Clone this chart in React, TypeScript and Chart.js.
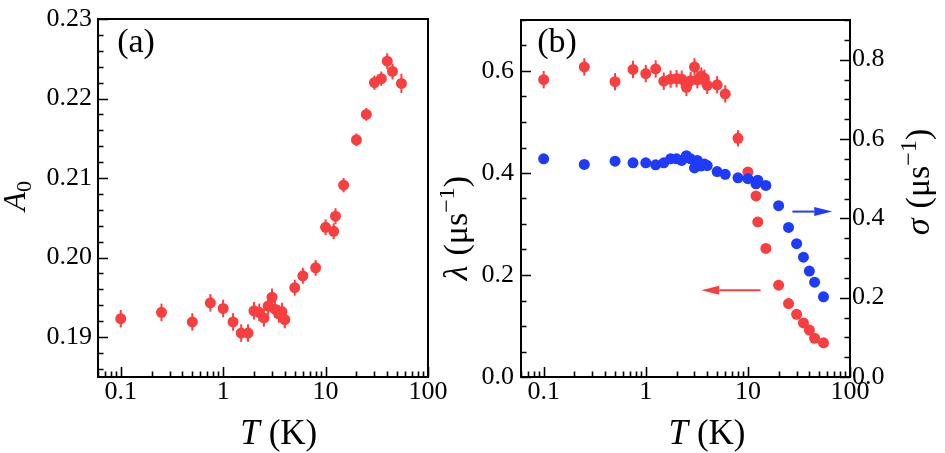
import React, { useEffect, useRef } from "react";
import { Chart, registerables } from "chart.js";

Chart.register(...registerables);

// ---------------- data ----------------
const temperatures = [0.1, 0.25, 0.5, 0.75, 1, 1.25, 1.5, 1.75, 2, 2.25, 2.5, 2.75, 3, 3.2, 3.5, 3.75, 4, 5, 6, 8, 10, 12, 12.5, 15, 20, 25, 30, 35, 40, 45, 55];
const a0Values = [0.1923, 0.1931, 0.1919, 0.1943, 0.1936, 0.1919, 0.1905, 0.1905, 0.1933, 0.1931, 0.1924, 0.1939, 0.195, 0.1935, 0.1929, 0.1932, 0.1922, 0.1962, 0.1977, 0.1987, 0.2038, 0.2033, 0.2052, 0.2091, 0.2148, 0.218, 0.222, 0.2225, 0.2247, 0.2234, 0.2219];
const a0Errors = [0.0011, 0.0011, 0.0011, 0.0011, 0.0011, 0.0011, 0.0011, 0.0011, 0.0011, 0.0011, 0.0011, 0.0011, 0.0011, 0.0011, 0.0011, 0.0011, 0.0011, 0.001, 0.001, 0.001, 0.001, 0.001, 0.001, 0.0009, 0.0008, 0.0008, 0.0009, 0.0009, 0.001, 0.001, 0.0012];
const lambdaValues = [0.583, 0.608, 0.579, 0.603, 0.595, 0.604, 0.58, 0.584, 0.585, 0.584, 0.568, 0.581, 0.608, 0.583, 0.59, 0.586, 0.572, 0.573, 0.555, 0.468, 0.402, 0.355, 0.304, 0.252, 0.18, 0.144, 0.123, 0.106, 0.092, 0.076, 0.067];
const lambdaErrors = [0.017, 0.017, 0.017, 0.017, 0.017, 0.017, 0.017, 0.017, 0.017, 0.017, 0.017, 0.017, 0.017, 0.017, 0.017, 0.017, 0.017, 0.017, 0.017, 0.016, 0.006, 0.005, 0.005, 0.005, 0.004, 0.004, 0.004, 0.004, 0.004, 0.004, 0.004];
const sigmaValues = [0.55, 0.536, 0.544, 0.54, 0.54, 0.535, 0.54, 0.55, 0.55, 0.546, 0.558, 0.55, 0.527, 0.546, 0.532, 0.537, 0.533, 0.518, 0.511, 0.502, 0.5, 0.487, 0.496, 0.483, 0.432, 0.377, 0.336, 0.302, 0.267, 0.239, 0.202];

const xTickValues = [0.1, 1, 10, 100];
const xTickLabels = ["0.1", "1", "10", "100"];
const a0TickValues = [0.19, 0.2, 0.21, 0.22, 0.23];
const a0TickLabels = ["0.19", "0.20", "0.21", "0.22", "0.23"];
const lambdaTickValues = [0, 0.2, 0.4, 0.6];
const lambdaTickLabels = ["0.0", "0.2", "0.4", "0.6"];
const sigmaTickValues = [0, 0.2, 0.4, 0.6, 0.8];
const sigmaTickLabels = ["0.0", "0.2", "0.4", "0.6", "0.8"];

// arrow annotations (data coordinates: T, value)
const sigmaArrowT = [27.3, 67];
const sigmaArrowV = [0.417, 0.417];
const lambdaArrowT = [13.3, 3.5];
const lambdaArrowV = [0.17, 0.17];

// ---------------- styles ----------------
const RED = "rgb(248,62,62)";
const BLUE = "rgb(30,58,250)";
const SERIF = "'Liberation Serif'";
const TICK_SIZE = 26;
const OXB = 440;

type TickMark = { v: number; major: boolean };
function linearTicks(min: number, max: number, step: number, major: number): TickMark[] {
  const out: TickMark[] = [];
  const i0 = Math.ceil(min / step - 1e-6);
  const i1 = Math.floor(max / step + 1e-6);
  for (let i = i0; i <= i1; i++) {
    const v = i * step;
    const r = v / major;
    out.push({ v, major: Math.abs(r - Math.round(r)) < 1e-6 });
  }
  return out;
}
function logTicks(min: number, max: number): TickMark[] {
  const out: TickMark[] = [];
  for (let e = -3; e <= 3; e++) {
    for (let k = 1; k <= 9; k++) {
      const v = k * Math.pow(10, e);
      if (v >= min * 0.9999 && v <= max * 1.0001) out.push({ v, major: k === 1 });
    }
  }
  return out;
}

type Piece = { t?: string; size?: number; italic?: boolean; dy?: number; gap?: number };
function pieceFont(p: Piece) {
  return `${p.italic ? "italic " : ""}${p.size || 35}px ${SERIF}`;
}
function drawRich(ctx: CanvasRenderingContext2D, pieces: Piece[], cx: number, cy: number, rot: number) {
  ctx.save();
  ctx.translate(cx, cy);
  ctx.rotate(rot);
  ctx.textBaseline = "alphabetic";
  ctx.textAlign = "left";
  ctx.fillStyle = "#000";
  const widths = pieces.map((p) => {
    if (p.gap !== undefined) return p.gap;
    ctx.font = pieceFont(p);
    return ctx.measureText(p.t || "").width;
  });
  const total = widths.reduce((a, b) => a + b, 0);
  let x = -total / 2;
  pieces.forEach((p, i) => {
    if (p.t) {
      ctx.font = pieceFont(p);
      ctx.fillText(p.t, x, p.dy || 0);
    }
    x += widths[i];
  });
  ctx.restore();
}

type TextSpec = { pieces: Piece[]; x: number; y: number; rot: number };
type ArrowSpec = { t: number[]; v: number[]; scale: string; color: string };
type Decor = {
  ox: number;
  xTicks: TickMark[];
  left: { id: string; ticks: TickMark[] };
  right?: { id: string; ticks: TickMark[] };
  texts: TextSpec[];
  arrows: ArrowSpec[];
};

function makeDecorPlugin(d: Decor) {
  return {
    id: "decor",
    beforeDatasetsDraw(chart: any) {
      const ctx: CanvasRenderingContext2D = chart.ctx;
      const xs = chart.scales.x;
      chart.data.datasets.forEach((ds: any) => {
        if (!ds.errors) return;
        const ys = chart.scales[ds.yAxisID || "y"];
        ctx.save();
        ctx.strokeStyle = ds.backgroundColor;
        ctx.lineWidth = 2;
        ds.data.forEach((pt: any, i: number) => {
          const e = ds.errors[i];
          const px = xs.getPixelForValue(pt.x);
          ctx.beginPath();
          ctx.moveTo(px, ys.getPixelForValue(pt.y - e));
          ctx.lineTo(px, ys.getPixelForValue(pt.y + e));
          ctx.stroke();
        });
        ctx.restore();
      });
    },
    afterDraw(chart: any) {
      const ctx: CanvasRenderingContext2D = chart.ctx;
      const { left, right, top, bottom } = chart.chartArea;
      const xs = chart.scales.x;
      ctx.save();
      ctx.strokeStyle = "#000";
      ctx.lineWidth = 1.6;
      const MAJ = 10, MIN = 5.5;
      ctx.beginPath();
      d.xTicks.forEach((t) => {
        const px = Math.round(xs.getPixelForValue(t.v)) + 0.5;
        ctx.moveTo(px, bottom);
        ctx.lineTo(px, bottom - (t.major ? MAJ : MIN));
      });
      const ly = chart.scales[d.left.id];
      d.left.ticks.forEach((t) => {
        const py = Math.round(ly.getPixelForValue(t.v)) + 0.5;
        ctx.moveTo(left, py);
        ctx.lineTo(left + (t.major ? MAJ : MIN), py);
      });
      if (d.right) {
        const ry = chart.scales[d.right.id];
        d.right.ticks.forEach((t) => {
          const py = Math.round(ry.getPixelForValue(t.v)) + 0.5;
          ctx.moveTo(right, py);
          ctx.lineTo(right - (t.major ? MAJ : MIN), py);
        });
      }
      ctx.stroke();
      ctx.lineWidth = 2;
      ctx.strokeRect(left, top, right - left, bottom - top);
      d.arrows.forEach((a) => {
        const ys = chart.scales[a.scale];
        const x1 = xs.getPixelForValue(a.t[0]);
        const x2 = xs.getPixelForValue(a.t[1]);
        const y1 = ys.getPixelForValue(a.v[0]);
        const y2 = ys.getPixelForValue(a.v[1]);
        const ang = Math.atan2(y2 - y1, x2 - x1);
        const hl = 18, hw = 4.5;
        const bx = x2 - hl * Math.cos(ang);
        const by = y2 - hl * Math.sin(ang);
        ctx.strokeStyle = a.color;
        ctx.fillStyle = a.color;
        ctx.lineWidth = 2;
        ctx.beginPath();
        ctx.moveTo(x1, y1);
        ctx.lineTo(bx, by);
        ctx.stroke();
        ctx.beginPath();
        ctx.moveTo(x2, y2);
        ctx.lineTo(bx - hw * Math.sin(ang), by + hw * Math.cos(ang));
        ctx.lineTo(bx + hw * Math.sin(ang), by - hw * Math.cos(ang));
        ctx.closePath();
        ctx.fill();
      });
      ctx.restore();
      d.texts.forEach((t) => drawRich(ctx, t.pieces, t.x - d.ox, t.y, t.rot));
    },
  };
}

function fixedTicks(values: number[], labels: string[], padding: number) {
  return {
    afterBuildTicks: (s: any) => {
      s.ticks = values.map((v) => ({ value: v }));
    },
    ticks: {
      autoSkip: false,
      maxRotation: 0,
      minRotation: 0,
      padding,
      color: "#000",
      font: { family: SERIF, size: TICK_SIZE, lineHeight: 1 },
      callback: (_v: any, i: number) => labels[i],
    },
    grid: { display: false, drawTicks: false },
    border: { display: false },
  };
}

const ROT = -Math.PI / 2;

export default function App() {
  const refA = useRef<HTMLCanvasElement>(null);
  const refB = useRef<HTMLCanvasElement>(null);

  useEffect(() => {
    const xMin = 0.06;
    const xMax = 100;
    const common = {
      responsive: false,
      animation: false as const,
      devicePixelRatio: 1,
      events: [] as any[],
      font: { family: SERIF },
      plugins: { legend: { display: false }, tooltip: { enabled: false } },
    };

    const decorA: Decor = {
      ox: 0,
      xTicks: logTicks(xMin, xMax),
      left: { id: "y", ticks: linearTicks(0.18497, 0.23, 0.002, 0.01) },
      texts: [
        { pieces: [{ t: "T", italic: true }, { gap: 9 }, { t: "(K)" }], x: 278.7, y: 444, rot: 0 },
        { pieces: [{ t: "A", italic: true, size: 31 }, { t: "0", size: 22, dy: 6 }], x: 25, y: 196, rot: ROT },
        { pieces: [{ t: "(a)", size: 34 }], x: 136, y: 52, rot: 0 },
      ],
      arrows: [],
    };

    const chartA = new Chart(refA.current as HTMLCanvasElement, {
      type: "scatter",
      data: {
        datasets: [
          {
            data: temperatures.map((t, i) => ({ x: t, y: a0Values[i] })),
            backgroundColor: RED,
            borderWidth: 0,
            pointRadius: 5.5,
            errors: a0Errors,
          } as any,
        ],
      },
      options: {
        ...common,
        layout: { padding: { top: 16, right: 32, left: 0, bottom: 0 } },
        scales: {
          x: {
            type: "logarithmic",
            position: "bottom",
            min: xMin,
            max: xMax,
            afterFit: (s: any) => {
              s.height = 76;
            },
            ...fixedTicks(xTickValues, xTickLabels, 2),
          },
          y: {
            type: "linear",
            position: "left",
            min: 0.18497,
            max: 0.23,
            afterFit: (s: any) => {
              s.width = 98;
            },
            ...fixedTicks(a0TickValues, a0TickLabels, 6),
          },
        },
      } as any,
      plugins: [makeDecorPlugin(decorA)],
    });

    const decorB: Decor = {
      ox: OXB,
      xTicks: logTicks(xMin, xMax),
      left: { id: "y", ticks: linearTicks(0, 0.7, 0.05, 0.2) },
      right: { id: "y2", ticks: linearTicks(0, 0.9, 0.05, 0.2) },
      texts: [
        { pieces: [{ t: "T", italic: true }, { gap: 9 }, { t: "(K)" }], x: 707, y: 444, rot: 0 },
        {
          pieces: [{ t: "λ", italic: true, size: 34 }, { gap: 10 }, { t: "(μs", size: 34 }, { t: "−1", size: 24, dy: -13 }, { t: ")", size: 34 }],
          x: 467,
          y: 228,
          rot: ROT,
        },
        {
          pieces: [{ t: "σ", italic: true, size: 34 }, { gap: 10 }, { t: "(μs", size: 34 }, { t: "−1", size: 24, dy: -13 }, { t: ")", size: 34 }],
          x: 929,
          y: 182,
          rot: ROT,
        },
        { pieces: [{ t: "(b)", size: 34 }], x: 557, y: 52, rot: 0 },
      ],
      arrows: [
        { t: sigmaArrowT, v: sigmaArrowV, scale: "y2", color: BLUE },
        { t: lambdaArrowT, v: lambdaArrowV, scale: "y", color: RED },
      ],
    };

    const chartB = new Chart(refB.current as HTMLCanvasElement, {
      type: "scatter",
      data: {
        datasets: [
          {
            data: temperatures.map((t, i) => ({ x: t, y: sigmaValues[i] })),
            backgroundColor: BLUE,
            borderWidth: 0,
            pointRadius: 5.5,
            yAxisID: "y2",
          },
          {
            data: temperatures.map((t, i) => ({ x: t, y: lambdaValues[i] })),
            backgroundColor: RED,
            borderWidth: 0,
            pointRadius: 5.5,
            yAxisID: "y",
            errors: lambdaErrors,
          } as any,
        ],
      },
      options: {
        ...common,
        layout: { padding: { top: 16, right: 0, left: 0, bottom: 0 } },
        scales: {
          x: {
            type: "logarithmic",
            position: "bottom",
            min: xMin,
            max: xMax,
            afterFit: (s: any) => {
              s.height = 76;
            },
            ...fixedTicks(xTickValues, xTickLabels, 2),
          },
          y: {
            type: "linear",
            position: "left",
            min: 0,
            max: 0.7,
            afterFit: (s: any) => {
              s.width = 521 - OXB;
            },
            ...fixedTicks(lambdaTickValues, lambdaTickLabels, 7),
          },
          y2: {
            type: "linear",
            position: "right",
            min: 0,
            max: 0.9,
            afterFit: (s: any) => {
              s.width = 945 - 850;
            },
            ...fixedTicks(sigmaTickValues, sigmaTickLabels, 2),
          },
        },
      } as any,
      plugins: [makeDecorPlugin(decorB)],
    });

    return () => {
      chartA.destroy();
      chartB.destroy();
    };
  }, []);

  return (
    <div style={{ position: "absolute", left: 0, top: 0, width: 945, height: 453, background: "#fff", overflow: "hidden" }}>
      <canvas ref={refA} width={460} height={453} style={{ position: "absolute", left: 0, top: 0 }} />
      <canvas ref={refB} width={945 - OXB} height={453} style={{ position: "absolute", left: OXB, top: 0 }} />
    </div>
  );
}
